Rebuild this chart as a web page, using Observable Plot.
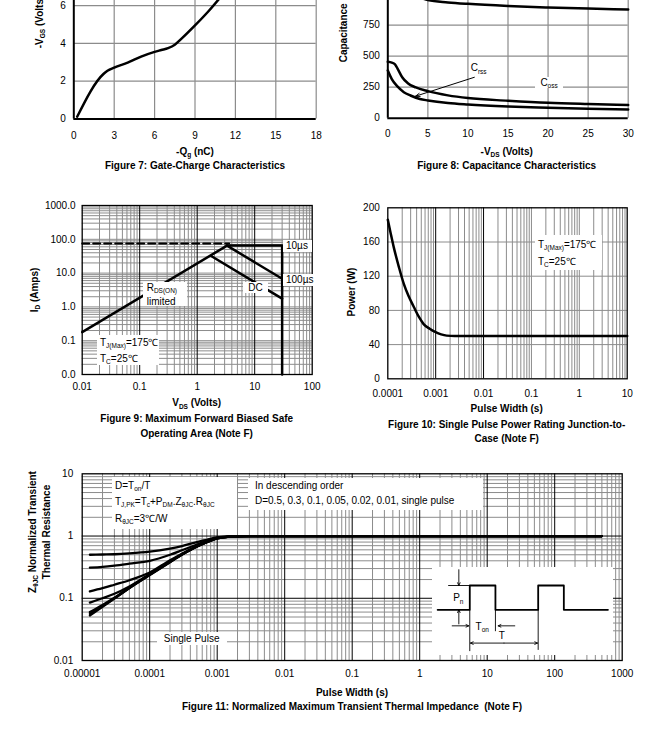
<!DOCTYPE html>
<html><head><meta charset="utf-8">
<script src="https://cdn.jsdelivr.net/npm/d3@7"></script>
<script src="https://cdn.jsdelivr.net/npm/@observablehq/plot@0.6"></script>
<style>
html,body{margin:0;padding:0;background:#fff;}
body{width:660px;height:744px;position:relative;overflow:hidden;font-family:"Liberation Sans",Arial,Helvetica,sans-serif;color:#000;}
.fig{position:absolute;}
.fig svg{display:block;overflow:visible;}
.t{position:absolute;white-space:nowrap;font-size:10px;line-height:1;transform:translate(-50%,-50%);}
.b{font-weight:bold;}
.box{position:absolute;background:#fff;white-space:nowrap;font-size:10px;box-sizing:border-box;}
sub{font-size:65%;vertical-align:baseline;position:relative;top:0.35em;}
</style>
</head><body>
<script>
// ---------------- Figure 7: Gate charge ----------------
const fig7Qg  = [0.25, 2.2, 2.5, 3, 4, 5, 6, 6.5, 7, 7.5, 8, 9, 10, 10.9];
const fig7Vgs = [0.12, 2.38, 2.55, 2.72, 2.98, 3.3, 3.55, 3.65, 3.75, 3.93, 4.25, 4.95, 5.7, 6.45];
const fig7XTicks = [0, 3, 6, 9, 12, 15, 18];
const fig7YTicks = [0, 2, 4, 6, 8, 10];

// ---------------- Figure 8: Capacitance ----------------
const fig8CissV = [4, 5, 7.5, 10, 15, 20, 25, 30];
const fig8CissC = [975, 952, 934, 922, 905, 893, 884, 876];
const fig8CossV = [0, 0.5, 0.9, 1.3, 1.8, 2.5, 3.5, 5, 7.5, 10, 15, 20, 25, 30];
const fig8CossC = [455, 448, 435, 390, 330, 282, 248, 218, 184, 162, 141, 124, 114, 106];
const fig8CrssV = [0, 0.5, 1.2, 2, 2.83, 4, 5, 7.5, 10, 15, 20, 25, 30];
const fig8CrssC = [385, 315, 256, 210, 183, 155, 143, 122, 110, 94, 84, 76, 70];
const fig8XTicks = [0, 5, 10, 15, 20, 25, 30];
const fig8YTicks = [0, 250, 500, 750, 1000, 1250, 1500];
const fig8Arrow = {x1: 10.8, y1: 330, x2: 3.45, y2: 177};

// ---------------- Figure 9: SOA ----------------
const fig9Names = ["RDS(ON) limited", "10us", "100us", "DC"];
const fig9V = [[0.01, 3.3], [3.3, 30, 30], [3.3, 30], [1.75, 30]];
const fig9I = [[0.18, 65], [65, 65, 0.01], [65, 6.8], [32, 1.75]];
const fig9DashV = [0.01, 3.6];
const fig9DashI = [75, 75];
const fig9XTicks = [0.01, 0.1, 1, 10, 100];
const fig9YTicks = [0.01, 0.1, 1, 10, 100, 1000];

// ---------------- Figure 10: Single pulse power ----------------
const fig10W = [1e-4, 1.15e-4, 1.33e-4, 1.7e-4, 2.16e-4, 2.7e-4, 3.5e-4, 4.5e-4, 5.6e-4, 7.5e-4, 1e-3, 1.3e-3, 1.7e-3, 2.5e-3, 1e-2, 0.1, 1, 10];
const fig10P = [186, 170, 154, 131, 111, 97, 84, 72, 64, 58.5, 54.5, 52, 50.5, 50, 50, 50, 50, 50];
const fig10XTicks = [1e-4, 1e-3, 1e-2, 0.1, 1, 10];
const fig10YTicks = [0, 40, 80, 120, 160, 200];

// ---------------- Figure 11: Transient thermal impedance ----------------
const fig11T = [1.3e-5, 2e-5, 3e-5, 5e-5, 1e-4, 2e-4, 3e-4, 5e-4, 7e-4, 1e-3, 1.5e-3, 2e-3, 3e-3, 1e-2, 0.1, 1, 10, 100, 500];
const fig11Series = ["D=0.5", "D=0.3", "D=0.1", "D=0.05", "D=0.02", "D=0.01", "Single Pulse"];
const fig11Z = [
  [0.50, 0.505, 0.51, 0.525, 0.56, 0.63, 0.69, 0.80, 0.87, 0.95, 0.98, 0.99, 1, 1, 1, 1, 1, 1, 1],
  [0.31, 0.32, 0.335, 0.36, 0.40, 0.50, 0.59, 0.73, 0.84, 0.94, 0.98, 0.99, 1, 1, 1, 1, 1, 1, 1],
  [0.129, 0.145, 0.165, 0.195, 0.26, 0.41, 0.52, 0.69, 0.81, 0.93, 0.975, 0.99, 1, 1, 1, 1, 1, 1, 1],
  [0.085, 0.10, 0.118, 0.155, 0.245, 0.39, 0.51, 0.68, 0.80, 0.925, 0.975, 0.99, 1, 1, 1, 1, 1, 1, 1],
  [0.06, 0.078, 0.102, 0.148, 0.24, 0.385, 0.505, 0.68, 0.80, 0.92, 0.975, 0.99, 1, 1, 1, 1, 1, 1, 1],
  [0.056, 0.075, 0.10, 0.146, 0.238, 0.383, 0.503, 0.68, 0.80, 0.92, 0.975, 0.99, 1, 1, 1, 1, 1, 1, 1],
  [0.053, 0.073, 0.099, 0.146, 0.236, 0.38, 0.50, 0.68, 0.80, 0.92, 0.975, 0.99, 1, 1, 1, 1, 1, 1, 1]
];
const fig11XTicks = [1e-5, 1e-4, 1e-3, 1e-2, 0.1, 1, 10, 100, 1000];
const fig11YTicks = [0.01, 0.1, 1, 10];

// inset pulse diagram (abstract units: t in periods, level 0 = low, 1 = Pn)
const pulseT = [-0.47, 0, 0, 0.375, 0.375, 1.0, 1.0, 1.375, 1.375, 2.02];
const pulseL = [0, 0, 1, 1, 0, 0, 1, 1, 0, 0];
const insetLinks = [
  {x1: -0.316, y1: 1, x2: 0, y2: 1},
  {x1: 0, y1: 0, x2: 0, y2: -1.70},
  {x1: 0.375, y1: 0, x2: 0.375, y2: -0.88},
  {x1: 1.0, y1: 0, x2: 1.0, y2: -1.65}
];
const insetArrows = [
  {x1: -0.16, y1: 1.65, x2: -0.16, y2: 1.0},
  {x1: -0.16, y1: -0.58, x2: -0.16, y2: 0},
  {x1: -0.257, y1: -0.66, x2: -0.015, y2: -0.66},
  {x1: 0.658, y1: -0.66, x2: 0.415, y2: -0.66},
  {x1: 0.5, y1: -1.37, x2: 0.01, y2: -1.37},
  {x1: 0.5, y1: -1.37, x2: 0.99, y2: -1.37}
];

// ---------------- helpers ----------------
const FONT = '"Liberation Sans", Arial, Helvetica, sans-serif';
const GRID = "#8c8c8c";
const baseStyle = {fontFamily: FONT, fontSize: "10px", color: "#000", background: "transparent", overflow: "visible", maxWidth: "none"};

function scaleFn(plot, name) {
  const s = plot.scale(name);
  if (s && typeof s.apply === "function") return v => s.apply(v);
  return (s.type === "log" ? d3.scaleLog() : d3.scaleLinear()).domain(s.domain).range(s.range);
}
function mk(left, top, opts, bg) {
  const plot = Plot.plot({...opts, style: {...baseStyle, ...(bg ? {background: bg} : {})}});
  const w = document.createElement("div");
  w.className = "fig";
  w.style.left = left + "px"; w.style.top = top + "px";
  w.style.width = opts.width + "px"; w.style.height = opts.height + "px";
  if (bg) w.style.background = bg;
  w.appendChild(plot);
  document.body.appendChild(w);
  const sx = scaleFn(plot, "x"), sy = scaleFn(plot, "y");
  return {plot, X: v => left + sx(v), Y: v => top + sy(v)};
}
function txt(html, cx, cy, cls = "", rot = false) {
  const d = document.createElement("div");
  d.className = "t " + cls;
  d.innerHTML = html;
  d.style.left = cx + "px"; d.style.top = cy + "px";
  if (rot) d.style.transform = "translate(-50%,-50%) rotate(-90deg)";
  document.body.appendChild(d);
}
function box(f, x, y, w, h, html, o = {}) {
  const d = document.createElement("div");
  d.className = "box";
  d.innerHTML = html;
  d.style.left = f.X(x) + "px"; d.style.top = f.Y(y) + "px";
  d.style.width = w + "px"; d.style.height = h + "px";
  d.style.padding = o.pad || "0 0 0 3px";
  d.style.lineHeight = (o.lh || h) + "px";
  d.style.textAlign = o.align || "left";
  if (o.nobg) d.style.background = "transparent";
  document.body.appendChild(d);
}
function label(f, x, y, html) {
  const d = document.createElement("div");
  d.className = "t";
  d.innerHTML = html;
  d.style.left = f.X(x) + "px"; d.style.top = f.Y(y) + "px";
  document.body.appendChild(d);
}
function logGrid(e0, e1) {
  const minor = [], major = [];
  for (let e = e0; e < e1; e++) {
    for (let k = 1; k < 10; k++) {
      const v = +(k * Math.pow(10, e)).toPrecision(3);
      (k === 1 ? major : minor).push(v);
    }
  }
  major.push(Math.pow(10, e1));
  return {minor, major};
}
const zip = (xs, ys, extra = {}) => xs.map((x, i) => ({x, y: ys[i], ...extra}));

// ---------------- Figure 7 ----------------
const f7 = mk(0, -100, {
  width: 330, height: 250, marginLeft: 73.3, marginRight: 14.3, marginTop: 29.5, marginBottom: 31.5,
  x: {domain: [0, 18], ticks: fig7XTicks, tickSize: 0, tickPadding: 13, label: null},
  y: {domain: [0, 10], ticks: fig7YTicks, tickSize: 0, tickPadding: 8, label: null},
  marks: [
    Plot.ruleX(fig7XTicks.slice(1), {stroke: GRID, strokeWidth: 1.2}),
    Plot.ruleY(fig7YTicks.slice(1), {stroke: GRID, strokeWidth: 1.2}),
    Plot.ruleX([0], {stroke: "#000", strokeWidth: 2}),
    Plot.ruleY([0], {stroke: "#000", strokeWidth: 2}),
    Plot.line(zip(fig7Qg, fig7Vgs), {x: "x", y: "y", stroke: "#000", strokeWidth: 2.5, curve: "monotone-x"})
  ]
});
txt("-V<sub>GS</sub> (Volts)", 40, 22, "b", true);
txt("-Q<sub>g</sub> (nC)", 195, 151.7, "b");
txt("Figure 7: Gate-Charge Characteristics", 195, 165.7, "b");

// ---------------- Figure 8 ----------------
const fig8Rows = [
  ...zip(fig8CissV, fig8CissC, {s: "Ciss"}),
  ...zip(fig8CossV, fig8CossC, {s: "Coss"}),
  ...zip(fig8CrssV, fig8CrssC, {s: "Crss"})
];
const f8 = mk(330, -100, {
  width: 330, height: 250, marginLeft: 57.3, marginRight: 32.3, marginTop: 31.7, marginBottom: 32.3,
  x: {domain: [0, 30], ticks: fig8XTicks, tickSize: 0, tickPadding: 12, label: null},
  y: {domain: [0, 1500], ticks: fig8YTicks, tickSize: 0, tickPadding: 8, label: null},
  marks: [
    Plot.ruleX(fig8XTicks.slice(1), {stroke: GRID, strokeWidth: 1.2}),
    Plot.ruleY(fig8YTicks.slice(1), {stroke: GRID, strokeWidth: 1.2}),
    Plot.ruleX([0], {stroke: "#000", strokeWidth: 2}),
    Plot.ruleY([0], {stroke: "#000", strokeWidth: 2}),
    Plot.line(fig8Rows, {x: "x", y: "y", z: "s", stroke: "#000", strokeWidth: 2.5, curve: "monotone-x"}),
    Plot.arrow([fig8Arrow], {x1: "x1", y1: "y1", x2: "x2", y2: "y2", stroke: "#000", strokeWidth: 1, headLength: 7, headAngle: 40})
  ]
});
txt("Capacitance (pF)", 344, 22, "b", true);
label(f8, 11.4, 398, "C<sub>rss</sub>");
box(f8, 18.44, 331, 28, 11, "C<sub>oss</sub>", {align: "center", pad: "0"});
txt("-V<sub>DS</sub> (Volts)", 506.7, 151.7, "b");
txt("Figure 8: Capacitance Characteristics", 506.7, 165.7, "b");

// ---------------- Figure 9 ----------------
const g9x = logGrid(-2, 2), g9y = logGrid(-2, 3);
const fig9Rows = fig9Names.flatMap((s, i) => zip(fig9V[i], fig9I[i], {s}));
const f9 = mk(0, 190, {
  width: 330, height: 210, marginLeft: 81.7, marginRight: 18.3, marginTop: 15, marginBottom: 26,
  x: {type: "log", domain: [0.01, 100], ticks: fig9XTicks, tickFormat: d => String(d), tickSize: 0, tickPadding: 8, label: null},
  y: {type: "log", domain: [0.01, 1000], ticks: fig9YTicks, tickFormat: d => d.toFixed(1), tickSize: 0, tickPadding: 6.7, label: null},
  marks: [
    Plot.ruleX(g9x.minor, {stroke: GRID, strokeWidth: 1}),
    Plot.ruleY([...g9y.minor, ...g9y.major], {stroke: GRID, strokeWidth: 1}),
    Plot.ruleX(g9x.major.slice(1, -1), {stroke: "#000", strokeWidth: 1}),
    Plot.frame({stroke: "#000", strokeWidth: 1.3}),
    Plot.line(fig9Rows, {x: "x", y: "y", z: "s", stroke: "#000", strokeWidth: 2.5}),
    Plot.line(zip(fig9DashV, fig9DashI), {x: "x", y: "y", stroke: "#000", strokeWidth: 2, strokeDasharray: "7,4"})
  ]
});
box(f9, 31.7, 94, 29, 12, "10µs");
box(f9, 31.7, 9.3, 31, 12, "100µs");
box(f9, 6.4, 5.2, 25, 11, "DC", {align: "center", pad: "0"});
box(f9, 0.115, 5.2, 44, 24, "R<sub>DS(ON)</sub><br>limited", {lh: 12.5, pad: "0 0 0 4px"});
box(f9, 0.01824, 0.1455, 62, 30, "T<sub>J(Max)</sub>=175℃<br>T<sub>C</sub>=25℃", {lh: 15, pad: "0 0 0 3.3px"});
txt("I<sub>D</sub> (Amps)", 35, 290, "b", true);
txt("V<sub>DS</sub> (Volts)", 196.7, 403.3, "b");
txt("Figure 9: Maximum Forward Biased Safe", 196.7, 419.3, "b");
txt("Operating Area (Note F)", 196.7, 433.5, "b");

// ---------------- Figure 10 ----------------
const g10x = logGrid(-4, 1);
const f10 = mk(330, 190, {
  width: 330, height: 210, marginLeft: 57.3, marginRight: 33.3, marginTop: 17.3, marginBottom: 21.7,
  x: {type: "log", domain: [1e-4, 10], ticks: fig10XTicks, tickFormat: d => String(d), tickSize: 0, tickPadding: 11.5, label: null},
  y: {domain: [0, 200], ticks: fig10YTicks, tickSize: 0, tickPadding: 8, label: null},
  marks: [
    Plot.ruleX([...g10x.minor, 0.1, 1], {stroke: GRID, strokeWidth: 1}),
    Plot.ruleY(fig10YTicks.slice(1, -1), {stroke: GRID, strokeWidth: 1}),
    Plot.ruleX([1e-3, 1e-2], {stroke: "#000", strokeWidth: 1}),
    Plot.frame({stroke: "#000", strokeWidth: 1.3}),
    Plot.line(zip(fig10W, fig10P), {x: "x", y: "y", stroke: "#000", strokeWidth: 2.5, curve: "monotone-x"})
  ]
});
box(f10, 0.1212, 167.6, 67, 35, "T<sub>J(Max)</sub>=175℃<br>T<sub>C</sub>=25℃", {lh: 16, pad: "2px 0 0 3px"});
txt("Power (W)", 351.7, 292, "b", true);
txt("Pulse Width (s)", 506.7, 409.3, "b");
txt("Figure 10: Single Pulse Power Rating Junction-to-", 506.7, 425, "b");
txt("Case (Note F)", 506.7, 438.5, "b");

// ---------------- Figure 11 ----------------
const g11x = logGrid(-5, 3), g11y = logGrid(-2, 1);
const fig11Rows = fig11Series.flatMap((s, i) => zip(fig11T, fig11Z[i], {s}));
const f11 = mk(0, 460, {
  width: 660, height: 220, marginLeft: 81.7, marginRight: 38.3, marginTop: 13.3, marginBottom: 20,
  x: {type: "log", domain: [1e-5, 1000], ticks: fig11XTicks, tickFormat: d => String(d), tickSize: 0, tickPadding: 9, label: null},
  y: {type: "log", domain: [0.01, 10], ticks: fig11YTicks, tickFormat: d => String(d), tickSize: 0, tickPadding: 9, label: null},
  marks: [
    Plot.ruleX(g11x.minor, {stroke: GRID, strokeWidth: 1}),
    Plot.ruleY(g11y.minor, {stroke: GRID, strokeWidth: 1}),
    Plot.ruleX(g11x.major.slice(1, -1), {stroke: "#000", strokeWidth: 1}),
    Plot.ruleY(g11y.major.slice(1, -1), {stroke: "#000", strokeWidth: 1}),
    Plot.frame({stroke: "#000", strokeWidth: 1.3}),
    Plot.line(fig11Rows, {x: "x", y: "y", z: "s", stroke: "#000", strokeWidth: 2.3, curve: "monotone-x"})
  ]
});
box(f11, 2.78e-5, 8.88, 125, 52, "D=T<sub>on</sub>/T<br>T<sub>J,PK</sub>=T<sub>c</sub>+P<sub>DM</sub>.Z<sub>θJC</sub>.R<sub>θJC</sub><br>R<sub>θJC</sub>=3℃/W", {lh: 15.5, pad: "1px 0 0 3.3px"});
box(f11, 2.94e-3, 8.34, 235, 32, "In descending order<br>D=0.5, 0.3, 0.1, 0.05, 0.02, 0.01, single pulse", {lh: 14.3, pad: "1px 0 0 6.7px"});
box(f11, 1.29e-4, 0.0286, 70, 13, "Single Pulse", {align: "center", pad: "0"});

// inset pulse diagram
const inset = mk(432, 567, {
  width: 181, height: 88, margin: 0,
  x: {domain: [-0.545, 2.101], axis: null},
  y: {domain: [-1.881, 1.741], axis: null},
  marks: [
    Plot.line(zip(pulseT, pulseL), {x: "x", y: "y", stroke: "#000", strokeWidth: 1.8}),
    Plot.link(insetLinks, {x1: "x1", y1: "y1", x2: "x2", y2: "y2", stroke: "#000", strokeWidth: 0.9}),
    Plot.arrow(insetArrows, {x1: "x1", y1: "y1", x2: "x2", y2: "y2", stroke: "#000", strokeWidth: 0.9, headLength: 5, headAngle: 50})
  ]
}, "#fff");
label(inset, -0.16, 0.45, "P<sub>n</sub>");
label(inset, 0.19, -0.716, "T<sub>on</sub>");
label(inset, 0.474, -1.10, "T");

txt('<div style="text-align:center;line-height:13.4px">Z<sub>θJC</sub> Normalized Transient<br>Thermal Resistance</div>', 40, 532, "b", true);
txt("Pulse Width (s)", 352, 693, "b");
txt("Figure 11: Normalized Maximum Transient Thermal Impedance&nbsp; (Note F)", 352, 707, "b");
</script>
</body></html>
